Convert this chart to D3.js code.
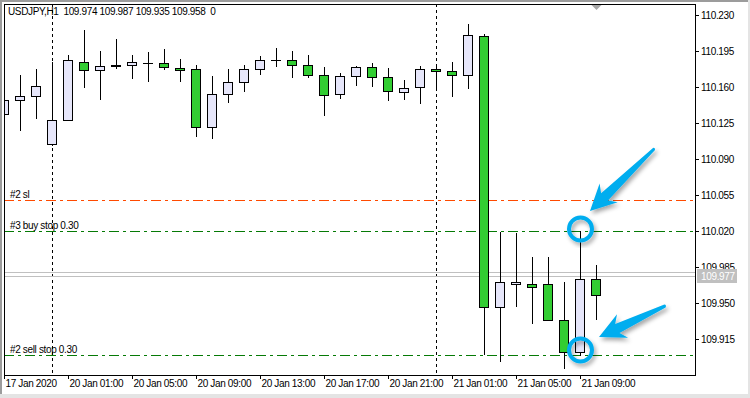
<!DOCTYPE html>
<html>
<head>
<meta charset="utf-8">
<script src="https://cdn.jsdelivr.net/npm/d3@7"></script>
<style>
  body { margin: 0; background: #fff; }
  svg text { font-family: "Liberation Sans", Arial, sans-serif; font-size: 10px; letter-spacing: -0.35px; white-space: pre; }
</style>
</head>
<body>
<svg id="chart" width="750" height="398"></svg>
<script>

// USDJPY H1 bars, 17 Jan 21:00 ... 21 Jan 10:00
var opens  = [110.134,110.148,110.151,110.105,110.128,110.185,110.177,110.182,110.182,110.184,
              110.184,110.179,110.178,110.121,110.153,110.165,110.178,110.186,110.186,110.182,
              110.172,110.153,110.171,110.180,110.170,110.155,110.160,110.178,110.176,110.172,
              110.210,109.946,109.969,109.969,109.969,109.934,109.903,109.974];
var highs  = [110.150,110.172,110.178,110.185,110.191,110.216,110.195,110.207,110.191,110.194,
              110.197,110.187,110.182,110.171,110.178,110.182,110.190,110.198,110.195,110.191,
              110.180,110.174,110.181,110.184,110.179,110.167,110.181,110.182,110.185,110.221,
              110.212,110.019,110.018,109.995,109.995,109.971,110.020,109.987];
var lows   = [110.133,110.118,110.130,110.104,110.128,110.160,110.149,110.179,110.169,110.166,
              110.178,110.166,110.113,110.111,110.146,110.156,110.173,110.181,110.170,110.170,
              110.133,110.150,110.162,110.161,110.148,110.149,110.145,110.157,110.151,110.159,
              109.901,109.894,109.947,109.931,109.934,109.887,109.900,109.935];
var closes = [110.148,110.151,110.161,110.128,110.186,110.177,110.181,110.181,110.185,110.184,
              110.180,110.177,110.121,110.153,110.165,110.178,110.186,110.186,110.182,110.172,
              110.152,110.171,110.180,110.170,110.156,110.159,110.178,110.176,110.172,110.211,
              109.946,109.971,109.971,109.966,109.934,109.903,109.974,109.958];

// axis ticks
var priceTicks = [110.230,110.195,110.160,110.125,110.090,110.055,110.020,109.985,109.950,109.915];
var timeTickIdx = [0,4,8,12,16,20,24,28,32,36];
var timeTickLabels = ["17 Jan 2020","20 Jan 01:00","20 Jan 05:00","20 Jan 09:00","20 Jan 13:00",
                      "20 Jan 17:00","20 Jan 21:00","21 Jan 01:00","21 Jan 05:00","21 Jan 09:00"];
var separatorIdx = [3, 27];   // day breaks

// order lines
var orderLabels = ["#2 sl", "#3 buy stop 0.30", "#2 sell stop 0.30"];
var orderPrices = [110.050, 110.020, 109.900];
var orderColors = ["#ff4a00", "#067a06", "#067a06"];

var bidPrice = 109.977, askPrice = 109.980;
var header = "USDJPY,H1  109.974 109.987 109.935 109.958  0";

// callouts (bar index, price)
var ringIdx = [36, 36];
var ringPrices = [110.022, 109.905];
var arrowTip  = [[36.65, 110.040], [37.2, 109.917]];
var arrowTail = [[40.65, 110.100], [41.3, 109.947]];

var w = 750, h = 398;
var pL = 4, pR = 695, pT = 4, pB = 375;
var step = 16;
var n = opens.length;

var svg = d3.select("#chart");

// window frame
svg.append("rect").attr("width", w).attr("height", h).attr("fill", "#fff");
svg.append("line").attr("x1",0).attr("x2",w).attr("y1",1).attr("y2",1).attr("stroke","#9c9c9c").attr("stroke-width",2);
svg.append("line").attr("x1",1).attr("x2",1).attr("y1",0).attr("y2",h).attr("stroke","#9c9c9c").attr("stroke-width",2);
svg.append("line").attr("x1",0).attr("x2",w).attr("y1",h-2).attr("y2",h-2).attr("stroke","#e4e4e4").attr("stroke-width",4);
svg.append("line").attr("x1",w-1).attr("x2",w-1).attr("y1",0).attr("y2",h).attr("stroke","#e4e4e4").attr("stroke-width",2);

var x = d3.scaleLinear().domain([0, n - 1]).range([pL, pL + step * (n - 1)]).interpolate(d3.interpolateRound);
var y = d3.scaleLinear().domain([109.8803, 110.2409]).range([pB, pT]).interpolate(d3.interpolateRound);

var defs = svg.append("defs");
defs.append("clipPath").attr("id", "plot")
  .append("rect").attr("x", pL).attr("y", pT).attr("width", pR - pL).attr("height", pB - pT);
var sh = defs.append("filter").attr("id", "shadow").attr("x", "-30%").attr("y", "-30%").attr("width", "160%").attr("height", "160%");
sh.append("feDropShadow").attr("dx", 2).attr("dy", 3).attr("stdDeviation", 2)
  .attr("flood-color", "#000").attr("flood-opacity", 0.35);

var plot = svg.append("g").attr("clip-path", "url(#plot)");

// day separators
plot.selectAll(".sep").data(separatorIdx).enter().append("line")
  .attr("x1", d => x(d) + 0.5).attr("x2", d => x(d) + 0.5)
  .attr("y1", pT).attr("y2", pB)
  .attr("stroke", "#000").attr("stroke-dasharray", "3,3");

// bid / ask
plot.selectAll(".bid").data([askPrice, bidPrice]).enter().append("line")
  .attr("x1", pL).attr("x2", pR)
  .attr("y1", d => y(d) + 0.5).attr("y2", d => y(d) + 0.5)
  .attr("stroke", "#c0c0c0");

// order levels
plot.selectAll(".order").data(orderPrices).enter().append("line")
  .attr("x1", pL).attr("x2", pR)
  .attr("y1", d => y(d) + 0.5).attr("y2", d => y(d) + 0.5)
  .attr("stroke", (d, i) => orderColors[i])
  .attr("stroke-dasharray", "10,4,3,4");

plot.selectAll(".olabel").data(orderPrices).enter().append("text")
  .attr("x", 10).attr("y", d => y(d) - 2)
  .attr("fill", "#000")
  .text((d, i) => orderLabels[i]);

// candles
var bars = d3.range(n);
plot.selectAll(".wick").data(bars).enter().append("line")
  .attr("x1", i => x(i) + 0.5).attr("x2", i => x(i) + 0.5)
  .attr("y1", i => y(highs[i])).attr("y2", i => y(lows[i]) + 1)
  .attr("stroke", "#000");

plot.selectAll(".body").data(bars.filter(i => y(opens[i]) != y(closes[i]))).enter().append("rect")
  .attr("x", i => x(i) - 4.5)
  .attr("y", i => Math.min(y(opens[i]), y(closes[i])) + 0.5)
  .attr("width", 9)
  .attr("height", i => Math.abs(y(opens[i]) - y(closes[i])))
  .attr("fill", i => closes[i] >= opens[i] ? "#e6e6fa" : "#32cd32")
  .attr("stroke", "#000");

plot.selectAll(".doji").data(bars.filter(i => y(opens[i]) == y(closes[i]))).enter().append("line")
  .attr("x1", i => x(i) - 5).attr("x2", i => x(i) + 5)
  .attr("y1", i => y(opens[i]) + 0.5).attr("y2", i => y(opens[i]) + 0.5)
  .attr("stroke", "#000");

// header
svg.append("text").attr("x", 8).attr("y", 15).attr("fill", "#000").text(header);

// shift marker
var sx = x(n - 1) + 0.5;
svg.append("path")
  .attr("d", "M" + (sx - 5) + "," + (pT + 1) + "L" + (sx + 5) + "," + (pT + 1) + "L" + sx + "," + (pT + 6) + "Z")
  .attr("fill", "#a8a8a8");

// frame
svg.append("rect").attr("x", pL + 0.5).attr("y", pT + 0.5)
  .attr("width", pR - pL).attr("height", pB - pT)
  .attr("fill", "none").attr("stroke", "#000");

// price axis
var yAxis = svg.append("g").attr("transform", "translate(" + pR + ",0)")
  .call(d3.axisRight(y).tickValues(priceTicks).tickSize(4).tickPadding(2).tickFormat(d3.format(".3f")));
yAxis.select(".domain").remove();
yAxis.selectAll("text").attr("font-family", null).attr("font-size", null).attr("fill", "#000");

// bid label
svg.append("rect").attr("x", 697).attr("y", y(bidPrice) - 7).attr("width", 40).attr("height", 14).attr("fill", "#c0c0c0");
svg.append("text").attr("x", 701).attr("y", y(bidPrice) + 4).attr("fill", "#fff").text(d3.format(".3f")(bidPrice));

// time axis
var xAxis = svg.append("g").attr("transform", "translate(0," + pB + ")")
  .call(d3.axisBottom(x).tickValues(timeTickIdx).tickSize(4).tickFormat((d, i) => timeTickLabels[i]));
xAxis.select(".domain").remove();
xAxis.selectAll("text").attr("font-family", null).attr("font-size", null).attr("fill", "#000")
  .attr("x", 1).attr("y", 12).attr("dy", null).attr("text-anchor", "start");

// callouts
var cyan = "#00adef";
svg.selectAll(".ring").data(ringPrices).enter().append("circle")
  .attr("cx", (d, i) => x(ringIdx[i]) + 0.5).attr("cy", d => y(d))
  .attr("r", 11.5).attr("fill", "none")
  .attr("stroke", cyan).attr("stroke-width", 4)
  .attr("filter", "url(#shadow)");

function arrowPath(tip, tail) {
  var tx = x(tip[0]), ty = y(tip[1]), ex = x(tail[0]), ey = y(tail[1]);
  var dx = ex - tx, dy = ey - ty, len = Math.sqrt(dx * dx + dy * dy);
  var ux = dx / len, uy = dy / len, nx = -uy, ny = ux;
  var headLen = 26, headW = 13, neckW = 5, tailW = 1.5;
  function p(a, b) { return (tx + ux * a + nx * b).toFixed(1) + "," + (ty + uy * a + ny * b).toFixed(1); }
  return "M" + p(0, 0) +
    "L" + p(headLen, headW) + "L" + p(headLen * 0.78, neckW) +
    "L" + p(len, tailW) + "Q" + p(len + 2, 0) + " " + p(len, -tailW) +
    "L" + p(headLen * 0.78, -neckW) + "L" + p(headLen, -headW) + "Z";
}

svg.selectAll(".arrow").data(arrowTip).enter().append("path")
  .attr("d", (d, i) => arrowPath(d, arrowTail[i]))
  .attr("fill", cyan)
  .attr("filter", "url(#shadow)");

</script>
</body>
</html>
